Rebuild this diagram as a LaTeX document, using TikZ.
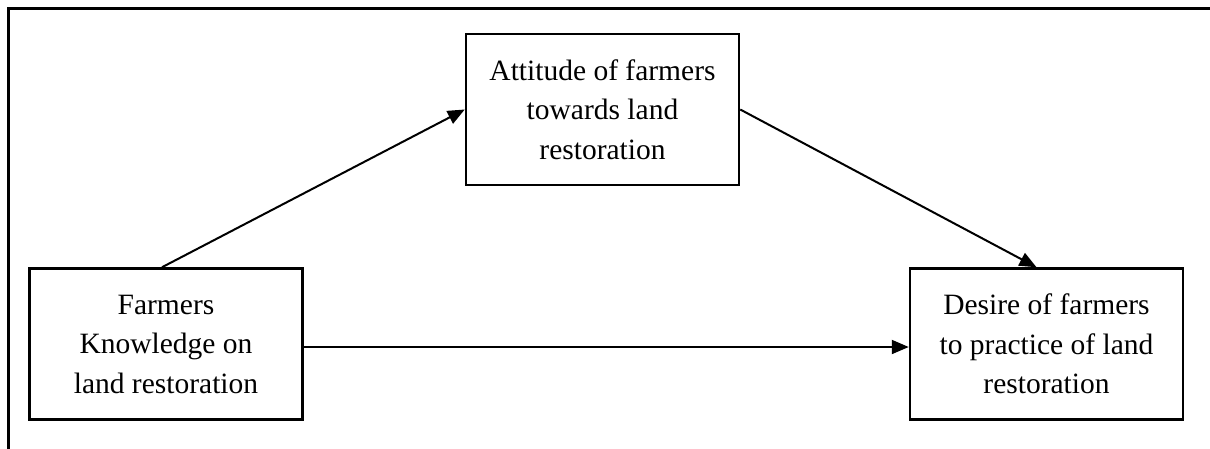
\documentclass[tikz,border=0pt]{standalone}
\usepackage{fontspec}
\setmainfont{Liberation Serif}
\usetikzlibrary{arrows.meta,calc}
\begin{document}
\begin{tikzpicture}[x=1pt,y=-1pt,
  box/.style={draw,line width=2.5pt,minimum width=273pt,minimum height=151pt,inner sep=0pt,align=center,font=\fontsize{29.5}{39.5}\selectfont},
  conn/.style={line width=2pt,-{Triangle[length=17pt,width=14pt]}},
  frame/.style={line width=3pt}]
\useasboundingbox (0,0) rectangle (1210,448);
\draw[frame] (1212,8) -- (8,8) -- (8,452);
\node[box] (kn) at (166,344) {Farmers\\Knowledge on\\land restoration};
\node[box] (att) at (602.5,109.5) {Attitude of farmers\\towards land\\restoration};
\node[box] (des) at (1046.5,344) {Desire of farmers\\to practice of land\\restoration};
\draw[conn] ($(kn.north)+(-4,0)$) -- (att.west);
\draw[conn] (att.east) -- ($(des.north)+(-10,0)$);
\draw[conn] ($(kn.east)+(0,3)$) -- ($(des.west)+(0,3)$);
\end{tikzpicture}
\end{document}
